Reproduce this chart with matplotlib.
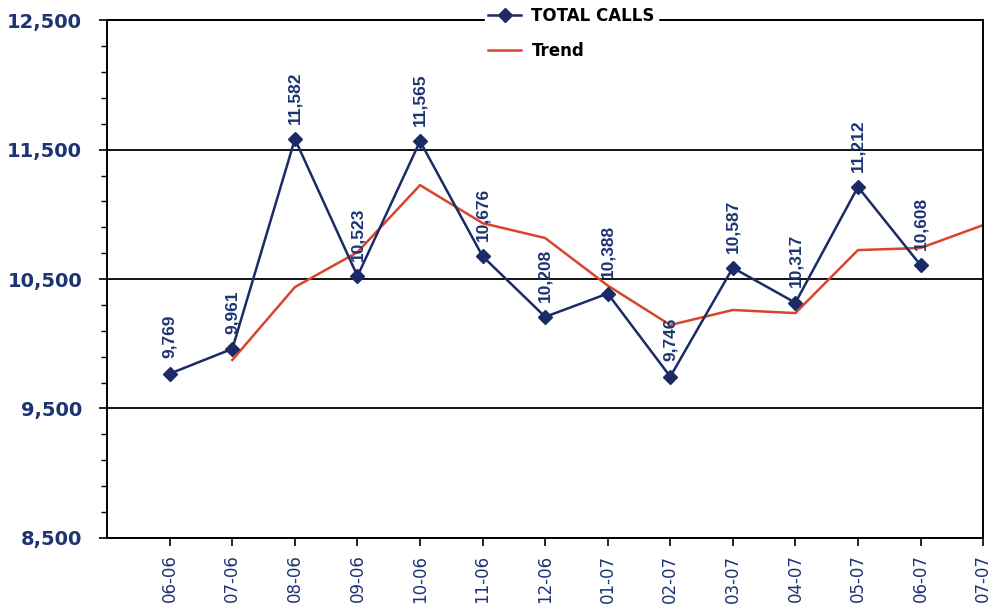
import matplotlib.pyplot as plt
import numpy as np
from matplotlib.ticker import FuncFormatter

months = ['06-06', '07-06', '08-06', '09-06', '10-06', '11-06', '12-06',
          '01-07', '02-07', '03-07', '04-07', '05-07', '06-07', '07-07']
total_calls = [9769, 9961, 11582, 10523, 11565, 10676, 10208,
               10388, 9746, 10587, 10317, 11212, 10608, np.nan]
trend = [np.nan, 9875, 10438, 10708, 11226, 10932, 10817,
         10450, 10145, 10261, 10237, 10724, 10740, 10917]

navy = '#1c2b66'
text_navy = '#1d3473'
red = '#d8452a'

fig = plt.figure(figsize=(9.93, 6.14), dpi=100)
ax = fig.add_axes([0.108, 0.124, 0.882, 0.843])

x = np.arange(len(months))
ax.plot(x, total_calls, color=navy, lw=1.8, marker='D', ms=7,
        mfc=navy, mec=navy, label='TOTAL CALLS', zorder=3)
ax.plot(x, trend, color=red, lw=1.8, label='Trend', zorder=2)

# data labels above each point
for xi, v in zip(x, total_calls):
    if np.isnan(v):
        continue
    ax.annotate(f'{int(v):,}', (xi, v), xytext=(0, 11), textcoords='offset points',
                rotation=90, ha='center', va='bottom', color=text_navy,
                fontsize=12.5, fontweight='bold', family='Liberation Sans', zorder=4)

ax.set_xlim(-1, 13)
ax.set_ylim(8500, 12500)
ax.set_xticks(x)
ax.set_xticklabels(months, rotation=90, color=text_navy, fontsize=12,
                   family='DejaVu Sans')
ax.set_yticks(np.arange(8500, 12501, 1000))
ax.set_yticks(np.arange(8500, 12501, 200), minor=True)
ax.yaxis.set_major_formatter(FuncFormatter(lambda v, p: f'{int(v):,}'))
for lab in ax.get_yticklabels():
    lab.set_color(text_navy)
    lab.set_fontweight('bold')
    lab.set_fontsize(14)

ax.tick_params(axis='y', which='major', direction='out', length=6, width=1.2,
               colors='black', labelcolor=text_navy, pad=12)
ax.tick_params(axis='y', which='minor', direction='out', length=4, width=1)
ax.tick_params(axis='x', direction='out', length=6, width=1.2, pad=6,
               labelcolor=text_navy)

ax.grid(axis='y', which='major', color='black', lw=1.3)
for s in ax.spines.values():
    s.set_color('black')
    s.set_linewidth(1.4)

leg = ax.legend(loc='upper center', bbox_to_anchor=(0.53, 1.048),
                frameon=True, facecolor='white', edgecolor='white',
                framealpha=1, fancybox=False, borderpad=0.2,
                labelspacing=1.0, handlelength=2.0, handletextpad=0.6,
                prop={'family': 'DejaVu Sans', 'weight': 'bold', 'size': 12})
leg.set_zorder(10)

fig.savefig('out.png', dpi=100)
